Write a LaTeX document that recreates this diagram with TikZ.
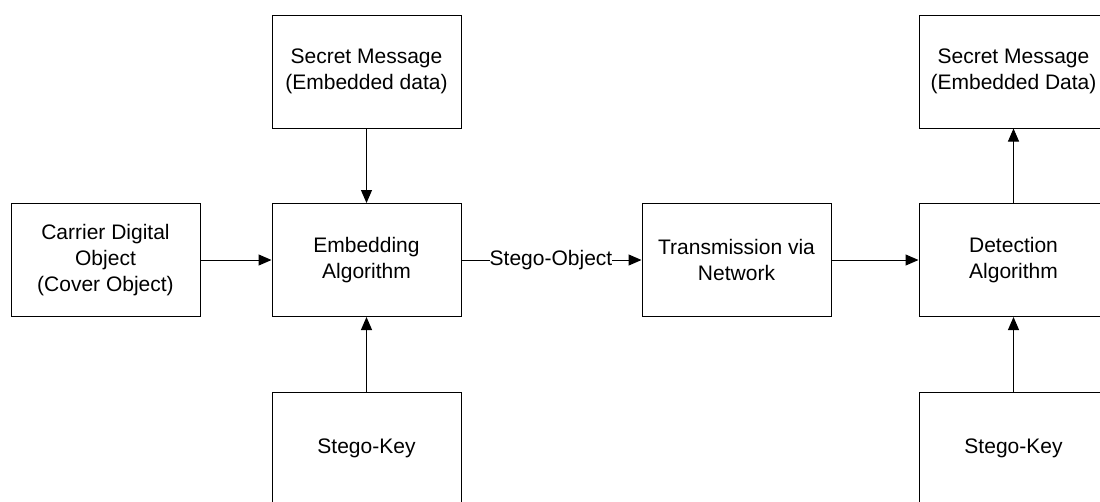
\documentclass[tikz,border=0pt]{standalone}
\usepackage{fontspec}
\setmainfont{Liberation Sans}
\usetikzlibrary{arrows.meta}
\tikzset{
  block/.style={draw=black, line width=1pt, fill=white, minimum width=189pt,
    minimum height=113pt, align=center, inner sep=0pt,
    font=\fontsize{21}{26}\selectfont},
  flow/.style={draw=black, line width=1pt, -{Triangle[length=13pt,width=11pt]}},
  plain/.style={draw=black, line width=1pt},
  tag/.style={inner sep=0pt, font=\fontsize{21}{26}\selectfont}
}
\begin{document}
\begin{tikzpicture}[x=1pt, y=-1pt]
  \useasboundingbox (0,0) rectangle (1100,501);
  \clip (0,0) rectangle (1100,501);

  % sender side
  \node[block] (secretA) at (366.5,71.5) {Secret Message\\(Embedded data)};
  \node[block] (carrier) at (105.5,260) {Carrier Digital\\Object\\(Cover Object)};
  \node[block] (embed)   at (366.5,260) {Embedding\\Algorithm};
  \node[block] (keyA)    at (366.5,448.5) {Stego-Key};

  % channel
  \node[block] (trans)   at (736.5,260) {Transmission via\\Network};
  \node[tag]   (stego)   at (551,260) {Stego-Object};

  % receiver side
  \node[block] (detect)  at (1013.5,260) {Detection\\Algorithm};
  \node[block] (secretB) at (1013.5,71.5) {Secret Message\\(Embedded Data)};
  \node[block] (keyB)    at (1013.5,448.5) {Stego-Key};

  % connectors
  \draw[flow] (secretA) -- (embed);
  \draw[flow] (carrier) -- (embed);
  \draw[flow] (keyA) -- (embed);
  \draw[plain] (embed.east) -- (stego.west);
  \draw[flow] (stego.east) -- (trans.west);
  \draw[flow] (trans) -- (detect);
  \draw[flow] (keyB) -- (detect);
  \draw[flow] (detect) -- (secretB);
\end{tikzpicture}
\end{document}
